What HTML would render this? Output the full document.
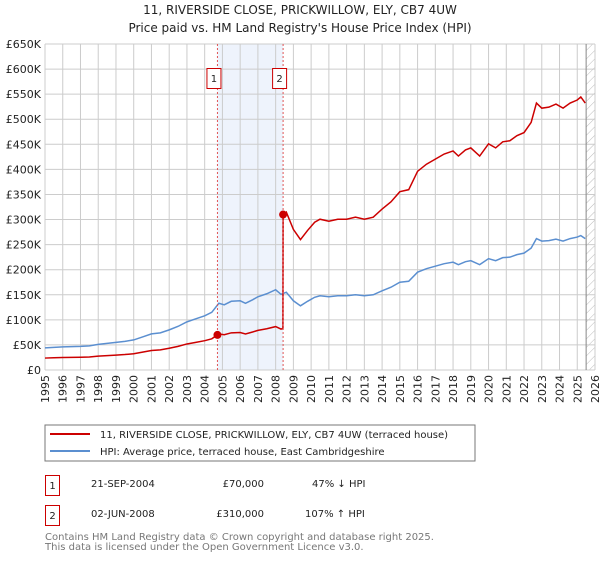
<!DOCTYPE html>
<html><head><meta charset="utf-8"><style>
body{margin:0;background:#fff;font-family:"DejaVu Sans","Liberation Sans",sans-serif;}
svg text{font-family:"DejaVu Sans","Liberation Sans",sans-serif;}
</style></head><body>
<svg id="c" width="600" height="560" xmlns="http://www.w3.org/2000/svg">
<defs><pattern id="hatch" width="6" height="6" patternUnits="userSpaceOnUse" patternTransform="rotate(45)"><line x1="0" y1="0" x2="0" y2="6" stroke="#bbb" stroke-width="1"/></pattern></defs>
<text x="300" y="14" text-anchor="middle" font-size="12" fill="#222">11, RIVERSIDE CLOSE, PRICKWILLOW, ELY, CB7 4UW</text>
<text x="300" y="32" text-anchor="middle" font-size="12" fill="#222">Price paid vs. HM Land Registry's House Price Index (HPI)</text>
<g id="grid"></g><g id="marks"></g>
<rect x="45" y="425" width="430" height="36" fill="#fff" stroke="#777"/>
<line x1="50" y1="434" x2="90" y2="434" stroke="#cc0000" stroke-width="2"/>
<text x="100" y="438" font-size="10" fill="#222">11, RIVERSIDE CLOSE, PRICKWILLOW, ELY, CB7 4UW (terraced house)</text>
<line x1="50" y1="451" x2="90" y2="451" stroke="#5b8fd0" stroke-width="2"/>
<text x="100" y="455" font-size="10" fill="#222">HPI: Average price, terraced house, East Cambridgeshire</text>
<g font-size="10" fill="#222">
<rect x="45.5" y="475.5" width="14" height="20" fill="none" stroke="#cc0000"/>
<text x="52.5" y="489" text-anchor="middle">1</text>
<text x="91" y="487">21-SEP-2004</text>
<text x="264" y="487" text-anchor="end">£70,000</text>
<text x="312" y="487">47% ↓ HPI</text>
<rect x="45.5" y="505.5" width="14" height="20" fill="none" stroke="#cc0000"/>
<text x="52.5" y="519" text-anchor="middle">2</text>
<text x="91" y="517">02-JUN-2008</text>
<text x="264" y="517" text-anchor="end">£310,000</text>
<text x="305" y="517">107% ↑ HPI</text>
</g>
<text x="45" y="540" font-size="10" fill="#777">Contains HM Land Registry data © Crown copyright and database right 2025.</text>
<text x="45" y="550" font-size="10" fill="#777">This data is licensed under the Open Government Licence v3.0.</text>
</svg>
<script>
const yearTicks=[1995,1996,1997,1998,1999,2000,2001,2002,2003,2004,2005,2006,2007,2008,2009,2010,2011,2012,2013,2014,2015,2016,2017,2018,2019,2020,2021,2022,2023,2024,2025,2026];
const priceTicks=[0,50000,100000,150000,200000,250000,300000,350000,400000,450000,500000,550000,600000,650000];
const priceTickLabels=["£0","£50K","£100K","£150K","£200K","£250K","£300K","£350K","£400K","£450K","£500K","£550K","£600K","£650K"];
const hpiDates=[1995,1995.5,1996,1996.5,1997,1997.5,1998,1998.5,1999,1999.5,2000,2000.5,2001,2001.5,2002,2002.5,2003,2003.5,2004,2004.4,2004.8,2005.1,2005.5,2006,2006.3,2006.7,2007,2007.5,2008,2008.3,2008.6,2009,2009.4,2009.8,2010.2,2010.5,2011,2011.5,2012,2012.5,2013,2013.5,2014,2014.5,2015,2015.5,2016,2016.5,2017,2017.5,2018,2018.3,2018.7,2019,2019.5,2020,2020.4,2020.8,2021.2,2021.6,2022,2022.4,2022.7,2023,2023.4,2023.8,2024.2,2024.6,2025,2025.2,2025.45];
const hpiValues=[44000,45000,46000,46500,47000,48000,51000,53000,55000,57000,60000,66000,72000,74000,80000,87000,96000,102000,108000,115000,133000,130000,137000,138000,133000,140000,146000,152000,160000,151000,155000,138000,128000,137000,145000,148000,146000,148000,148000,150000,148000,150000,158000,165000,175000,177000,195000,202000,207000,212000,215000,210000,216000,218000,210000,222000,218000,224000,225000,230000,233000,243000,262000,257000,258000,261000,257000,262000,265000,268000,262000];
const saleDates=[2004.72,2008.42];
const salePrices=[70000,310000];
const saleLabels=["1","2"];
const X0=45,X1=595,Y0=370,Y1=44,xmin=1995,xmax=2026,ymax=650000,dataEnd=2025.5;
const xs=d=>X0+(d-xmin)/(xmax-xmin)*(X1-X0);
const ys=v=>Y0-v/ymax*(Y0-Y1);
const NS="http://www.w3.org/2000/svg";
const grid=document.getElementById('grid'),marks=document.getElementById('marks');
function mk(tag,attrs,parent){const e=document.createElementNS(NS,tag);for(const k in attrs)e.setAttribute(k,attrs[k]);parent.appendChild(e);return e;}
// shaded region between sales
let e=mk('rect',{x:xs(saleDates[0]),y:Y1,width:xs(saleDates[1])-xs(saleDates[0]),height:Y0-Y1,fill:'#eef3fc'},grid);


e=mk('rect',{x:xs(dataEnd),y:Y1,width:X1-xs(dataEnd),height:Y0-Y1,fill:'url(#hatch)'},grid);


yearTicks.forEach(y=>{const l=mk('line',{x1:xs(y),x2:xs(y),y1:Y1,y2:Y0,stroke:'#ccc'},grid);


const t=mk('text',{x:0,y:0,'font-size':11,fill:'#222','text-anchor':'end',transform:`translate(${xs(y)+4},${Y0+5}) rotate(-90)`},grid);t.textContent=y;

});
priceTicks.forEach((v,i)=>{const l=mk('line',{x1:X0,x2:X1,y1:ys(v),y2:ys(v),stroke:'#ccc'},grid);


const t=mk('text',{x:X0-4,y:ys(v)+4,'font-size':11,fill:'#222','text-anchor':'end'},grid);t.textContent=priceTickLabels[i];

});
e=mk('line',{x1:xs(dataEnd),x2:xs(dataEnd),y1:Y1,y2:Y0,stroke:'#888'},grid);


function hpiAt(d){for(let i=1;i<hpiDates.length;i++){if(d<=hpiDates[i]){const t=(d-hpiDates[i-1])/(hpiDates[i]-hpiDates[i-1]);return hpiValues[i-1]+t*(hpiValues[i]-hpiValues[i-1]);}}return hpiValues[hpiValues.length-1];}
// HPI line
e=mk('polyline',{points:hpiDates.map((d,i)=>xs(d)+','+ys(hpiValues[i])).join(' '),fill:'none',stroke:'#5b8fd0','stroke-width':1.5},marks);


// property line: HPI scaled by the most recent sale
const pts=[];
const ratio=d=>{let k=0;for(let i=0;i<saleDates.length;i++)if(d>=saleDates[i])k=i;return salePrices[k]/hpiAt(saleDates[k]);};
const allD=hpiDates.concat(saleDates,saleDates.map(s=>s-0.01)).sort((a,b)=>a-b);
allD.forEach(d=>{let v;const i=saleDates.indexOf(d);v=i>=0?salePrices[i]:hpiAt(d)*ratio(d);pts.push(xs(d)+','+ys(v));});
e=mk('polyline',{points:pts.join(' '),fill:'none',stroke:'#cc0000','stroke-width':1.5},marks);


saleDates.forEach((d,i)=>{
const l=mk('line',{x1:xs(d),x2:xs(d),y1:Y1,y2:Y0,stroke:'#e05555','stroke-dasharray':'2,2'},marks);


const c=mk('circle',{cx:xs(d),cy:ys(salePrices[i]),r:4,fill:'#cc0000'},marks);


const b=mk('rect',{x:xs(d)-10.5,y:68.5,width:14,height:20,fill:'#fff',stroke:'#cc0000'},marks);


const t=mk('text',{x:xs(d)-3.5,y:82,'font-size':10,fill:'#222','text-anchor':'middle'},marks);t.textContent=saleLabels[i];

});
</script>
</body></html>
